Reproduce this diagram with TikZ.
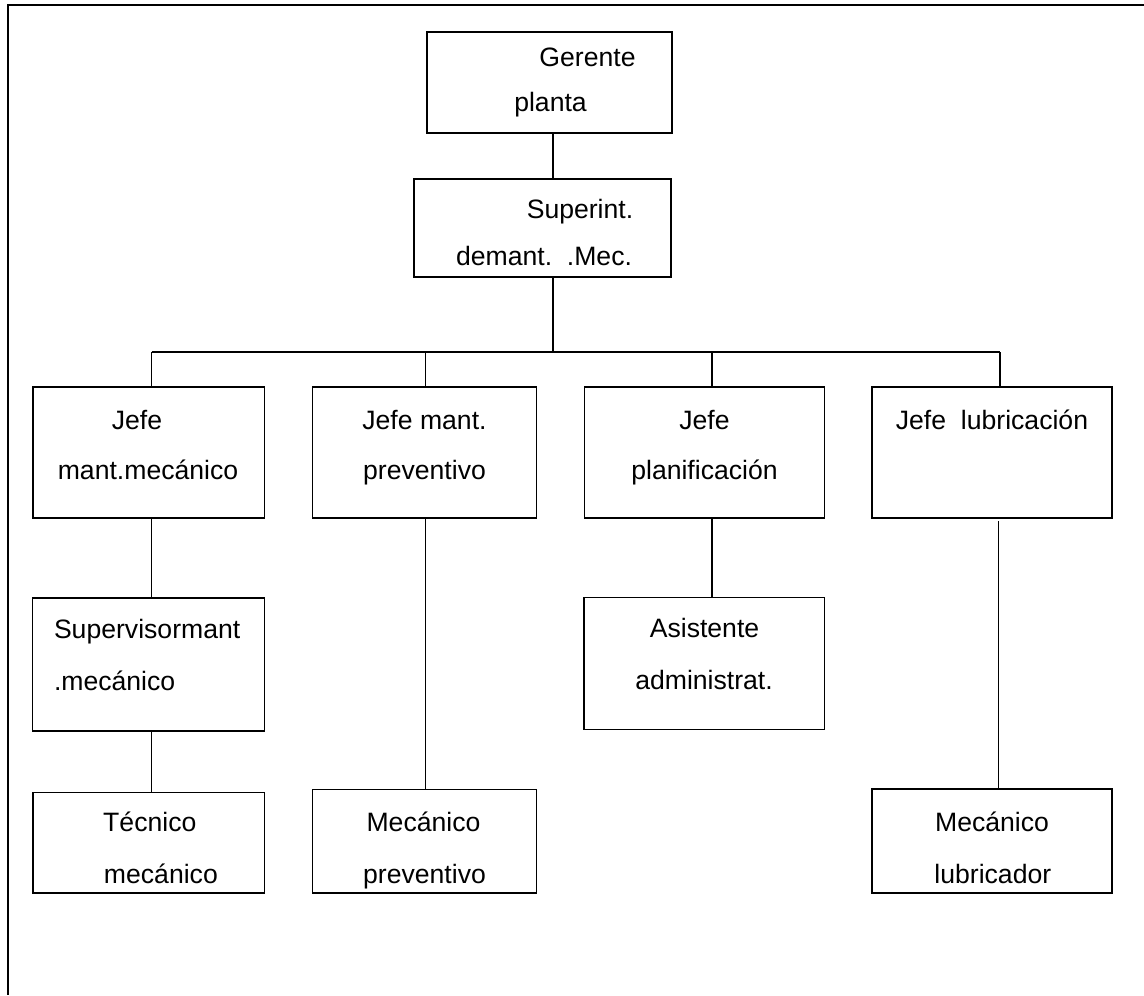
\documentclass[tikz,border=0pt]{standalone}
\usepackage{fontspec}
\setmainfont{Liberation Sans}
\usetikzlibrary{fit,calc}
\begin{document}
\begin{tikzpicture}[x=0.5pt,y=-0.5pt,
  box/.style={draw, line width=0.85pt, inner sep=0pt, outer sep=0pt},
  link/.style={line width=0.75pt},
  frameline/.style={line width=1.25pt},
  lbl/.style={anchor=base, inner sep=0pt, font=\fontsize{13.3}{16}\selectfont},
  lblw/.style={lbl, anchor=base west}]
\useasboundingbox (0,0) rectangle (1144,995);

% page frame (top and left edges only)
\draw[frameline] (1144,5) -- (7.8,5) -- (7.8,995);

% boxes
\node[box, fit={(427.3,32.3) (671.7,132.7)}] (g) {};
\node[box, fit={(414,179.3) (670.7,277.3)}] (s) {};
\node[box, fit={(33.3,387) (264.5,518)}] (j1) {};
\node[box, fit={(312.6,387) (536.4,518)}] (j2) {};
\node[box, fit={(584.6,387) (824.4,518)}] (j3) {};
\node[box, fit={(872,387) (1111.8,518)}] (j4) {};
\node[box, fit={(32.6,597.7) (264.5,730.8)}] (sup) {};
\node[box, fit={(584,597.6) (824.4,729.4)}] (asis) {};
\node[box, fit={(33.3,792.6) (264.5,893.3)}] (tec) {};
\node[box, fit={(312.6,789.6) (536.4,893.3)}] (mprev) {};
\node[box, fit={(872,789.3) (1111.8,893.3)}] (mlub) {};

% labels
\node[lbl] (tg1) at (587.5,66.7) {Gerente};
\node[lbl] (tg2) at (550.5,111.5) {planta};
\node[lbl] (ts1) at (580,218.3) {Superint.};
\node[lbl] (ts2) at (544,265) {demant.\ \ .Mec.};
\node[lbl] (tj11) at (137,429) {Jefe};
\node[lbl] (tj12) at (148,479.8) {mant.mecánico};
\node[lbl] (tj21) at (424.5,429) {Jefe mant.};
\node[lbl] (tj22) at (424.5,479.8) {preventivo};
\node[lbl] (tj31) at (704.5,429) {Jefe};
\node[lbl] (tj32) at (704.5,479.8) {planificación};
\node[lbl] (tj41) at (992,429) {Jefe\ \ lubricación};
\node[lblw] (tsup1) at (53.6,638.4) {Supervisormant};
\node[lblw] (tsup2) at (53.6,690.2) {.mecánico};
\node[lbl] (tas1) at (704.5,637.9) {Asistente};
\node[lbl] (tas2) at (704,689.1) {administrat.};
\node[lbl] (tt1) at (149.8,831.4) {Técnico};
\node[lbl] (tt2) at (160.9,883.2) {mecánico};
\node[lbl] (tp1) at (423.5,831.4) {Mecánico};
\node[lbl] (tp2) at (424.5,883.2) {preventivo};
\node[lbl] (tl1) at (992,831.4) {Mecánico};
\node[lbl] (tl2) at (992.8,883.2) {lubricador};

% connectors
\coordinate (gs) at ($(g.south)+(3.5,0)$);
\draw[link] (gs) -- (gs |- s.north);

\coordinate (hub) at (553,352);
\draw[link] (s.south -| hub) -- (hub);

\coordinate (d1) at ($(j1.north)+(2.8,0)$);
\coordinate (d2) at ($(j2.north)+(0.9,0)$);
\coordinate (d3) at ($(j3.north)+(7.5,0)$);
\coordinate (d4) at ($(j4.north)+(8.2,0)$);
\draw[link] (d1 |- hub) -- (d4 |- hub);
\foreach \d in {d1,d2,d3,d4} \draw[link] (\d |- hub) -- (\d);

\coordinate (e1) at ($(j1.south)+(2.8,0)$);
\coordinate (e2) at ($(j2.south)+(0.9,0)$);
\coordinate (e3) at ($(j3.south)+(7.5,0)$);
\coordinate (e4) at ($(j4.south)+(6.4,3.3)$);
\draw[link] (e1) -- (e1 |- sup.north);
\draw[link] (e1 |- sup.south) -- (e1 |- tec.north);
\draw[link] (e2) -- (e2 |- mprev.north);
\draw[link] (e3) -- (e3 |- asis.north);
\draw[link] (e4) -- (e4 |- mlub.north);
\end{tikzpicture}
\end{document}
